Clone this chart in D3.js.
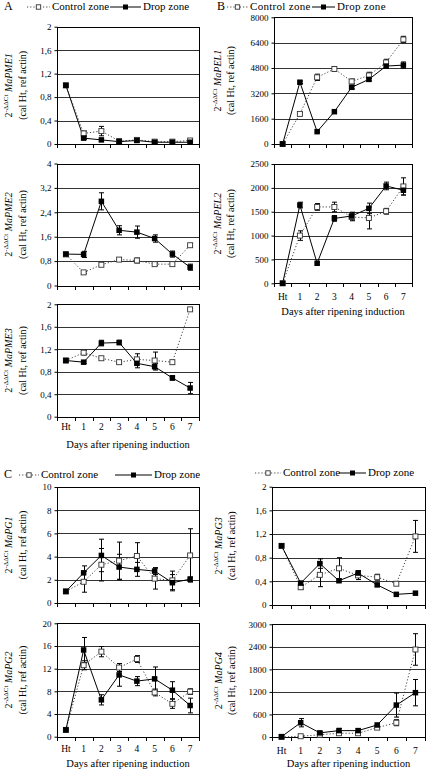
<!DOCTYPE html>
<html><head><meta charset="utf-8">
<script src="https://cdn.jsdelivr.net/npm/d3@7/dist/d3.min.js"></script>
<style>
html,body{margin:0;padding:0;background:#fff;}
svg{display:block;}
svg text{font-family:'Liberation Serif','Times New Roman','DejaVu Serif',serif;}
</style></head>
<body><svg id="c" width="426" height="771" font-family="Liberation Serif, serif"></svg>
<script>
const days = ["Ht","1","2","3","4","5","6","7"];

// A1 MaPME1
const pme1Control = [1.0, 0.18, 0.22, 0.05, 0.07, 0.04, 0.04, 0.06];
const pme1ControlErr = [0, 0.04, 0.08, 0.02, 0.02, 0.01, 0.01, 0.01];
const pme1Drop = [1.0, 0.1, 0.07, 0.04, 0.06, 0.03, 0.03, 0.03];
const pme1DropErr = [0, 0.02, 0.01, 0.01, 0.01, 0.01, 0.01, 0.01];
const pme1Ticks = [0, 0.4, 0.8, 1.2, 1.6, 2];

// A2 MaPME2
const pme2Control = [1.02, 0.43, 0.68, 0.85, 0.82, 0.7, 0.7, 1.32];
const pme2ControlErr = [0, 0.03, 0.03, 0.03, 0.08, 0.04, 0.03, 0.05];
const pme2Drop = [1.03, 1.02, 2.76, 1.81, 1.75, 1.54, 1.03, 0.6];
const pme2DropErr = [0, 0.1, 0.28, 0.15, 0.2, 0.12, 0.1, 0.1];
const pme2Ticks = [0, 0.8, 1.6, 2.4, 3.2, 4];

// A3 MaPME3
const pme3Control = [1.0, 1.14, 1.04, 0.97, 1.02, 1.0, 0.97, 1.91];
const pme3ControlErr = [0, 0.04, 0.02, 0.02, 0.1, 0.15, 0.03, 0.02];
const pme3Drop = [1.0, 0.97, 1.31, 1.32, 0.95, 0.89, 0.69, 0.51];
const pme3DropErr = [0, 0.02, 0.05, 0.04, 0.08, 0.06, 0.04, 0.1];
const pme3Ticks = [0, 0.4, 0.8, 1.2, 1.6, 2];

// B1 MaPEL1
const pel1Control = [0, 1900, 4210, 4740, 3950, 4330, 5150, 6600];
const pel1ControlErr = [0, 80, 200, 150, 150, 200, 200, 200];
const pel1Drop = [0, 3900, 780, 2040, 3580, 4080, 4920, 4980];
const pel1DropErr = [0, 80, 60, 60, 100, 100, 120, 200];
const pel1Ticks = [0, 1600, 3200, 4800, 6400, 8000];

// B2 MaPEL2
const pel2Control = [0, 1000, 1600, 1600, 1390, 1370, 1510, 2030];
const pel2ControlErr = [0, 100, 70, 100, 80, 230, 60, 180];
const pel2Drop = [0, 1640, 420, 1360, 1410, 1570, 2040, 1950];
const pel2DropErr = [0, 60, 20, 60, 80, 110, 80, 100];
const pel2Ticks = [0, 500, 1000, 1500, 2000, 2500];

// C1 MaPG1
const pg1Control = [1.0, 1.83, 3.3, 3.65, 4.05, 2.1, 1.95, 4.1];
const pg1ControlErr = [0, 0.9, 1.4, 1.6, 1.15, 0.9, 0.8, 2.3];
const pg1Drop = [1.0, 2.6, 4.1, 3.1, 2.9, 2.75, 1.75, 2.05];
const pg1DropErr = [0, 0.6, 1.4, 1.1, 0.6, 0.3, 0.7, 0.2];
const pg1Ticks = [0, 2, 4, 6, 8, 10];

// C2 MaPG2
const pg2Control = [1.2, 12.6, 15.0, 12.2, 13.7, 7.8, 5.8, 7.95];
const pg2ControlErr = [0, 0.8, 0.9, 0.7, 0.6, 0.6, 0.8, 0.5];
const pg2Drop = [1.2, 15.3, 6.5, 10.9, 9.8, 10.2, 8.2, 5.5];
const pg2DropErr = [0, 2.2, 0.9, 2.0, 0.8, 2.1, 1.5, 1.3];
const pg2Ticks = [0, 4, 8, 12, 16, 20];

// C3 MaPG3
const pg3Control = [1.0, 0.3, 0.51, 0.62, 0.5, 0.47, 0.36, 1.16];
const pg3ControlErr = [0, 0.03, 0.2, 0.18, 0.07, 0.05, 0.03, 0.27];
const pg3Drop = [1.0, 0.37, 0.7, 0.41, 0.54, 0.34, 0.18, 0.2];
const pg3DropErr = [0, 0.03, 0.08, 0.02, 0.04, 0.02, 0.01, 0.01];
const pg3Ticks = [0, 0.4, 0.8, 1.2, 1.6, 2];

// C4 MaPG4
const pg4Control = [0, 20, 60, 100, 100, 250, 380, 2330];
const pg4ControlErr = [0, 10, 20, 40, 30, 30, 80, 420];
const pg4Drop = [10, 380, 110, 170, 170, 320, 850, 1180];
const pg4DropErr = [0, 110, 30, 60, 50, 40, 320, 350];
const pg4Ticks = [0, 600, 1200, 1800, 2400, 3000];

const FONT = "Liberation Serif, Times New Roman, serif";
const svg = d3.select("#c");
const fmt = v => String(v).replace(".", ",");

const panels = [
  {gene:"MaPME1", c:pme1Control, ce:pme1ControlErr, d:pme1Drop, de:pme1DropErr, ticks:pme1Ticks, x0:57, x1:199, y0:26.7, y1:144, lx:10, lx2:24},
  {gene:"MaPME2", c:pme2Control, ce:pme2ControlErr, d:pme2Drop, de:pme2DropErr, ticks:pme2Ticks, x0:57, x1:199, y0:163.5, y1:285.5, lx:10, lx2:24},
  {gene:"MaPME3", c:pme3Control, ce:pme3ControlErr, d:pme3Drop, de:pme3DropErr, ticks:pme3Ticks, x0:57, x1:199, y0:304.3, y1:416.7, lx:10, lx2:24, xl:428, xt:446},
  {gene:"MaPEL1", c:pel1Control, ce:pel1ControlErr, d:pel1Drop, de:pel1DropErr, ticks:pel1Ticks, x0:274, x1:412, y0:17.3, y1:144, lx:219, lx2:232},
  {gene:"MaPEL2", c:pel2Control, ce:pel2ControlErr, d:pel2Drop, de:pel2DropErr, ticks:pel2Ticks, x0:274, x1:412, y0:164, y1:283.3, lx:219, lx2:232, xl:298, xt:313},
  {gene:"MaPG1", c:pg1Control, ce:pg1ControlErr, d:pg1Drop, de:pg1DropErr, ticks:pg1Ticks, x0:57, x1:199, y0:487, y1:603, lx:10, lx2:24},
  {gene:"MaPG2", c:pg2Control, ce:pg2ControlErr, d:pg2Drop, de:pg2DropErr, ticks:pg2Ticks, x0:57, x1:199, y0:623.3, y1:736.7, lx:10, lx2:24, xl:750, xt:765},
  {gene:"MaPG3", c:pg3Control, ce:pg3ControlErr, d:pg3Drop, de:pg3DropErr, ticks:pg3Ticks, x0:272, x1:425, y0:486.7, y1:605, lx:220, lx2:233},
  {gene:"MaPG4", c:pg4Control, ce:pg4ControlErr, d:pg4Drop, de:pg4DropErr, ticks:pg4Ticks, x0:272, x1:425, y0:624.3, y1:737, lx:220, lx2:233, xl:752, xt:765}
];

panels.forEach(p => {
  const x = d3.scaleBand().domain(days).range([p.x0, p.x1]);
  const y = d3.scaleLinear().domain([0, d3.max(p.ticks)]).range([p.y1, p.y0]);
  const g = svg.append("g").attr("font-family", FONT);
  const cx = i => x(days[i]) + x.bandwidth()/2;

  g.selectAll(".grid").data(p.ticks.slice(1, -1)).join("line")
    .attr("x1", p.x0).attr("x2", p.x1)
    .attr("y1", d => Math.round(y(d)) + 0.5).attr("y2", d => Math.round(y(d)) + 0.5)
    .attr("stroke", "#333").attr("stroke-width", 1);
  g.append("rect").attr("x", Math.round(p.x0)+0.5).attr("y", Math.round(p.y0)+0.5)
    .attr("width", Math.round(p.x1) - Math.round(p.x0)).attr("height", Math.round(p.y1) - Math.round(p.y0))
    .attr("fill", "none").attr("stroke", "#000").attr("stroke-width", 1);

  const ya = d3.axisLeft(y).tickValues(p.ticks).tickFormat(fmt).tickSize(3).tickPadding(3);
  const yg = g.append("g").attr("transform", `translate(${Math.round(p.x0)+0.5},0)`).call(ya);
  yg.attr("font-family", FONT);
  yg.select(".domain").remove();
  yg.selectAll("text").attr("font-size", 9).attr("font-family", FONT).attr("fill", "#000");
  yg.selectAll("line").attr("stroke", "#000");

  const bounds = days.map(d => x(d)).concat([p.x1]);
  g.selectAll(".xt").data(bounds).join("line")
    .attr("x1", d => Math.round(d)+0.5).attr("x2", d => Math.round(d)+0.5)
    .attr("y1", Math.round(p.y1)).attr("y2", Math.round(p.y1)+4)
    .attr("stroke", "#000");
  if (p.xl) {
    g.selectAll(".xl").data(days).join("text")
      .attr("x", d => x(d) + x.bandwidth()/2).attr("y", p.xl)
      .attr("text-anchor", "middle").attr("dominant-baseline", "middle")
      .attr("font-size", 9.5).text(d => d);
    g.append("text").attr("x", (p.x0 + p.x1)/2).attr("y", p.xt)
      .attr("text-anchor", "middle").attr("dominant-baseline", "middle")
      .attr("font-size", 10.5).text("Days after ripening induction");
  }

  const cy = (p.y0 + p.y1) / 2;
  const t1 = g.append("text").attr("transform", `translate(${p.lx},${cy}) rotate(-90)`)
    .attr("text-anchor", "middle").attr("dominant-baseline", "middle").attr("font-size", 10);
  t1.append("tspan").text("2");
  t1.append("tspan").attr("font-size", 7).attr("dy", -4).text("-ΔΔCt");
  t1.append("tspan").attr("dy", 4).text(" ");
  t1.append("tspan").attr("font-style", "italic").text(p.gene);
  g.append("text").attr("transform", `translate(${p.lx2},${cy}) rotate(-90)`)
    .attr("text-anchor", "middle").attr("dominant-baseline", "middle").attr("font-size", 10)
    .text("(cal Ht, ref actin)");

  const line = d3.line().x((d, i) => cx(i)).y(d => y(d));
  g.append("path").datum(p.c).attr("d", line).attr("fill", "none")
    .attr("stroke", "#444").attr("stroke-width", 1).attr("stroke-dasharray", "1.2,2");
  g.append("path").datum(p.d).attr("d", line).attr("fill", "none")
    .attr("stroke", "#000").attr("stroke-width", 1);

  const eb = (vals, errs) => {
    const data = vals.map((v, i) => ({i, v, e: errs[i]})).filter(o => o.e > 0);
    const eg = g.append("g").attr("stroke", "#000").attr("stroke-width", 1);
    data.forEach(o => {
      const X = Math.round(cx(o.i)) + 0.5;
      const ya1 = y(o.v + o.e), ya2 = y(Math.max(0, o.v - o.e));
      eg.append("line").attr("x1", X).attr("x2", X).attr("y1", ya1).attr("y2", ya2);
      eg.append("line").attr("x1", X-2.5).attr("x2", X+2.5).attr("y1", ya1).attr("y2", ya1);
      eg.append("line").attr("x1", X-2.5).attr("x2", X+2.5).attr("y1", ya2).attr("y2", ya2);
    });
  };
  eb(p.c, p.ce);
  eb(p.d, p.de);

  g.selectAll(".cm").data(p.c).join("rect")
    .attr("x", (d, i) => cx(i) - 2.5).attr("y", d => y(d) - 2.5)
    .attr("width", 5).attr("height", 5)
    .attr("fill", "#fff").attr("stroke", "#333").attr("stroke-width", 0.9);
  g.selectAll(".dm").data(p.d).join("rect")
    .attr("x", (d, i) => cx(i) - 2.75).attr("y", d => y(d) - 2.75)
    .attr("width", 5.5).attr("height", 5.5).attr("fill", "#000");
});

function legend(ly, ctrlX0, ctrlX1, ctrlT, dropX0, dropX1, dropT, fs, ls) {
  const g = svg.append("g").attr("font-family", FONT);
  g.append("line").attr("x1", ctrlX0).attr("x2", ctrlX1).attr("y1", ly).attr("y2", ly)
    .attr("stroke", "#444").attr("stroke-dasharray", "1.2,2");
  g.append("rect").attr("x", (ctrlX0+ctrlX1)/2 - 2.2).attr("y", ly - 2.2).attr("width", 4.4).attr("height", 4.4)
    .attr("fill", "#fff").attr("stroke", "#333").attr("stroke-width", 0.9);
  g.append("text").attr("x", ctrlT).attr("y", ly).attr("dominant-baseline", "middle")
    .attr("font-size", fs).attr("letter-spacing", ls).text("Control zone");
  g.append("line").attr("x1", dropX0).attr("x2", dropX1).attr("y1", ly).attr("y2", ly).attr("stroke", "#000");
  g.append("rect").attr("x", (dropX0+dropX1)/2 - 2.5).attr("y", ly - 2.5).attr("width", 5).attr("height", 5).attr("fill", "#000");
  g.append("text").attr("x", dropT).attr("y", ly).attr("dominant-baseline", "middle")
    .attr("font-size", fs).attr("letter-spacing", ls).text("Drop zone");
}
const letters = [{t:"A", x:4, y:7}, {t:"B", x:217, y:7}, {t:"C", x:4, y:475}];
svg.append("g").attr("font-family", FONT).selectAll("text").data(letters).join("text")
  .attr("x", d => d.x).attr("y", d => d.y).attr("dominant-baseline", "middle")
  .attr("font-size", 12).text(d => d.t);
legend(7, 27, 50, 52, 110, 141, 143, 11, 0);
legend(7, 227, 248, 250, 312, 335, 337, 11, 0.3);
legend(475, 19, 39, 41, 115, 152, 154, 11, 0);
legend(473, 255, 281, 283, 339, 366, 368, 11, 0);
</script></body></html>
